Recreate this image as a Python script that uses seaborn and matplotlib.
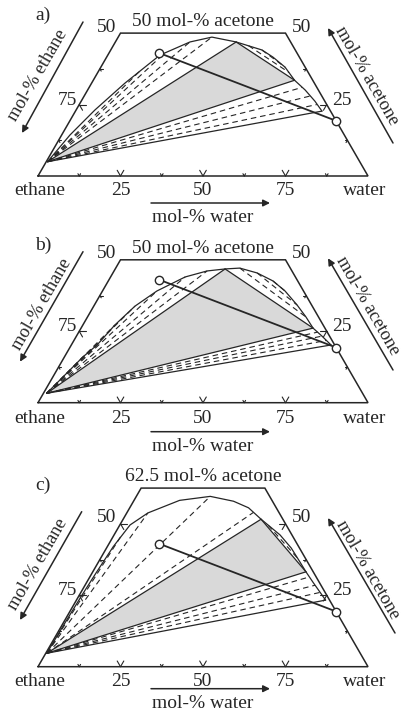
import numpy as np
import pandas as pd
import matplotlib
matplotlib.use("Agg")
import matplotlib.pyplot as plt
from matplotlib.patches import Polygon
import seaborn as sns

sns.set_theme(style="white")
plt.rcParams['font.family'] = ['Liberation Serif', 'DejaVu Serif']

# ---------------- data: compositions in mol-% (water, acetone); ethane = rest ----------------
panel_labels = ["a)", "b)", "c)"]
acetone_cut = [50.0, 50.0, 62.5]
top_titles = ["50 mol-% acetone", "50 mol-% acetone", "62.5 mol-% acetone"]
bottom_ticks = [25, 50, 75]

feed_water = [15.3, 80.7]
feed_acetone = [43.0, 19.3]

vap_water = [0.4, 1.0, 0.3]
vap_acetone = [5.0, 3.3, 4.7]

# binodal (liquid envelope)
bin_a_water = [0.4, 2.5, 5.7, 10.1, 15.8, 22.6, 28.4, 36.6, 45.8, 50.4, 55.8, 61.0, 65.9, 70.8, 74.7]
bin_a_acet = [5.0, 14.3, 23.1, 32.5, 42.3, 46.9, 48.6, 46.9, 44.1, 41.6, 38.1, 33.5, 30.1, 26.2, 22.7]
bin_b_water = [1.0, 5.6, 7.8, 9.7, 12.5, 16.5, 22.6, 28.2, 33.3, 37.6, 43.7, 49.9, 55.3, 61.4, 66.2, 70.3, 74.4, 78.7]
bin_b_acet = [3.3, 16.0, 20.2, 27.2, 33.8, 39.1, 44.0, 46.1, 46.8, 47.1, 45.4, 42.6, 39.1, 34.2, 30.0, 26.1, 23.3, 20.2]
bin_c_water = [0.3, 0.5, 0.8, 1.2, 1.8, 3.1, 6.4, 13.8, 22.4, 30.3, 36.0, 41.8, 50.3, 56.0, 61.1, 64.6, 68.5, 75.5]
bin_c_acet = [4.7, 15.0, 25.0, 33.0, 42.0, 49.6, 53.8, 58.2, 59.6, 57.9, 55.6, 51.6, 46.1, 41.5, 36.6, 33.2, 29.6, 23.3]

# three-phase triangle liquid corners and water-rich end of lower two-phase region
L1_water = [36.6, 33.3, 41.8]
L1_acet = [46.9, 46.8, 51.6]
L2_water = [61.0, 70.3, 64.6]
L2_acet = [33.5, 26.1, 33.2]
R_water = [74.7, 78.7, 75.5]
R_acet = [22.7, 20.2, 23.3]

# tie lines vapour -> L1-rich branch
tie_up_water = [[12.5, 16.9, 22.6, 28.4],
                [5.6, 7.8, 9.7, 12.5, 16.5, 22.6, 28.2],
                [2.3, 6.4, 22.4, 38.3]]
tie_up_acet = [[36.7, 43.1, 46.9, 48.6],
               [16.0, 20.2, 27.2, 33.8, 39.1, 44.0, 46.1],
               [45.5, 53.8, 59.6, 54.0]]
# tie lines vapour -> L2-rich branch
tie_lo_water = [[64.5, 68.5, 72.0], [72.4, 74.4, 76.5], [66.5, 69.7, 72.5]]
tie_lo_acet = [[31.0, 28.0, 25.0], [24.7, 23.3, 21.8], [31.4, 28.5, 26.0]]
# liquid-liquid tie lines (pairs of ends)
tie_ll_w1 = [[41.0, 45.8], [37.6, 43.7, 49.9], [45.0]]
tie_ll_a1 = [[45.6, 44.1], [47.1, 45.4, 42.6], [49.5]]
tie_ll_w2 = [[58.0, 55.8], [66.2, 61.4, 55.3], [60.0]]
tie_ll_a2 = [[36.2, 38.1], [30.0, 34.2, 39.1], [37.7]]

binodal_water = [bin_a_water, bin_b_water, bin_c_water]
binodal_acet = [bin_a_acet, bin_b_acet, bin_c_acet]

SQ = np.sqrt(3) / 2


def tern(w, a):
    w = np.asarray(w, float) / 100.0
    a = np.asarray(a, float) / 100.0
    return w + a / 2, a * SQ


INK = "#262626"
DASH = (0, (5, 3.5))

# layout (pixels): panel extents in figure, base line position inside panel
W, H = 406, 715
SCALE = 330.0
X0 = 38.0
panel_top = [0, 228, 458]
panel_bot = [228, 458, 715]
base_local = [176.0, 174.7, 208.7]
lbl_pos = [(43, 15), (43, 17), (43, 27)]
arrow_dy = [27, 29, 22]
text_dy = [41.5, 44, 36.5]
corner_dy = [14.5, 15.5, 15]
eth_arrow = [((83, 22), (22, 133)), ((83, 23.7), (20, 133.7)), ((81.7, 53.7), (20, 162))]
eth_text = [(37.5, 75.5), (41.5, 76.0), (37.5, 106.0)]
ace_arrow = [((393, 143), (328, 28)), ((393, 142), (328, 30.3)), ((395, 175), (328, 60))]
ace_text = [(367.0, 76.0), (368.0, 78.0), (368.0, 111.5)]

fig = plt.figure(figsize=(W / 100, H / 100), dpi=100)
FS = 14
FS_ROT = 13.2

for i in range(3):
    top, bot, y0 = panel_top[i], panel_bot[i], base_local[i]
    ax = fig.add_axes([0, 1 - bot / H, 1, (bot - top) / H])
    ax.set_xlim(-X0 / SCALE, (W - X0) / SCALE)
    ax.set_ylim(-(bot - top - y0) / SCALE, y0 / SCALE)
    ax.set_axis_off()

    def P(px, py):
        return ((px - X0) / SCALE, (y0 - py) / SCALE)

    cut = acetone_cut[i]
    # truncated triangle outline
    ox, oy = tern([0, 0, 100 - cut, 100, 0], [0, cut, cut, 0, 0])
    ax.plot(ox, oy, color=INK, lw=1.1, zorder=3, solid_joinstyle='miter')

    # edge ticks
    tick_segs = []
    for v in np.arange(12.5, 100, 12.5):
        L = 0.02 if v % 25 == 0 else 0.008
        bx, by = tern(v, 0)
        for dx, dy in [(0.5, SQ), (-0.5, SQ)]:
            tick_segs.append(([bx, bx + L * dx], [by, by + L * dy]))
    for a in np.arange(12.5, cut - 1e-6, 12.5):
        L = 0.02 if a % 25 == 0 else 0.008
        lx, ly = tern(0, a)
        for dx, dy in [(1, 0), (0.5, -SQ)]:
            tick_segs.append(([lx, lx + L * dx], [ly, ly + L * dy]))
        rx, ry = tern(100 - a, a)
        for dx, dy in [(-1, 0), (-0.5, -SQ)]:
            tick_segs.append(([rx, rx + L * dx], [ry, ry + L * dy]))
    for sx, sy in tick_segs:
        ax.plot(sx, sy, color=INK, lw=0.8, zorder=3)

    V = (vap_water[i], vap_acetone[i])
    L1 = (L1_water[i], L1_acet[i])
    L2 = (L2_water[i], L2_acet[i])
    R = (R_water[i], R_acet[i])

    # three-phase triangle
    tx, ty = tern([V[0], L1[0], L2[0]], [V[1], L1[1], L2[1]])
    ax.add_patch(Polygon(np.column_stack([tx, ty]), closed=True,
                         facecolor="#d9d9d9", edgecolor="none", zorder=1))

    # dashed tie lines
    rows = []
    k = 0
    for w_, a_ in zip(tie_up_water[i] + tie_lo_water[i], tie_up_acet[i] + tie_lo_acet[i]):
        xs, ys = tern([V[0], w_], [V[1], a_])
        for x, y in zip(xs, ys):
            rows.append((x, y, k))
        k += 1
    for w1, a1, w2, a2 in zip(tie_ll_w1[i], tie_ll_a1[i], tie_ll_w2[i], tie_ll_a2[i]):
        xs, ys = tern([w1, w2], [a1, a2])
        for x, y in zip(xs, ys):
            rows.append((x, y, k))
        k += 1
    ties = pd.DataFrame(rows, columns=["x", "y", "seg"])
    sns.lineplot(data=ties, x="x", y="y", units="seg", estimator=None, sort=False,
                 color=INK, lw=0.8, linestyle=DASH, ax=ax, legend=False, zorder=2)

    # solid boundaries of three-phase triangle and two-phase regions
    rows = []
    for k, (p, q) in enumerate([(V, L1), (L1, L2), (V, L2), (V, R)]):
        xs, ys = tern([p[0], q[0]], [p[1], q[1]])
        for x, y in zip(xs, ys):
            rows.append((x, y, k))
    bnd = pd.DataFrame(rows, columns=["x", "y", "seg"])
    sns.lineplot(data=bnd, x="x", y="y", units="seg", estimator=None, sort=False,
                 color=INK, lw=0.9, ax=ax, legend=False, zorder=3)

    # binodal curve
    bx, by = tern(binodal_water[i], binodal_acet[i])
    sns.lineplot(x=bx, y=by, sort=False, estimator=None, color=INK, lw=0.9, ax=ax, zorder=3)

    # feed line with circles
    fx, fy = tern(feed_water, feed_acetone)
    sns.lineplot(x=fx, y=fy, sort=False, estimator=None, color=INK, lw=1.3, ax=ax, zorder=4)
    sns.scatterplot(x=fx, y=fy, s=36, facecolor="white", edgecolor=INK, linewidth=1.0,
                    ax=ax, zorder=5, legend=False)
    ax.set_xlabel("")
    ax.set_ylabel("")

    # ---------------- texts ----------------
    ax.text(*P(*lbl_pos[i]), panel_labels[i], fontsize=FS, ha="center", va="center", color=INK)
    _, tcy = tern(0, cut)
    ax.text(0.5, tcy + 11.5 / SCALE, top_titles[i], fontsize=FS, ha="center", va="center", color=INK)
    lx, ly = tern(0, 50)
    rx, ry = tern(50, 50)
    ax.text(lx - 13.5 / SCALE, ly + 6 / SCALE, "50", fontsize=FS, ha="center", va="center", color=INK)
    ax.text(rx + 16.5 / SCALE, ry + 6 / SCALE, "50", fontsize=FS, ha="center", va="center", color=INK)
    lx, ly = tern(0, 25)
    rx, ry = tern(75, 25)
    ax.text(lx - 12 / SCALE, ly + 4.5 / SCALE, "75", fontsize=FS, ha="center", va="center", color=INK)
    ax.text(rx + 15 / SCALE, ry + 4.5 / SCALE, "25", fontsize=FS, ha="center", va="center", color=INK)
    # bottom labels
    cy = -corner_dy[i] / SCALE
    ax.text((40 - X0) / SCALE, cy, "ethane", fontsize=FS, ha="center", va="center", color=INK)
    ax.text((365 - X0) / SCALE, cy, "water", fontsize=FS, ha="center", va="center", color=INK)
    for t in bottom_ticks:
        ax.text(t / 100, cy, str(t), fontsize=FS, ha="center", va="center", color=INK)
    ay = -arrow_dy[i] / SCALE
    ax.annotate("", xy=((270 - X0) / SCALE, ay), xytext=((151 - X0) / SCALE, ay),
                arrowprops=dict(arrowstyle="-|>", lw=1.1, color=INK, mutation_scale=10,
                                shrinkA=0, shrinkB=0))
    ax.text(0.5, -text_dy[i] / SCALE, "mol-% water", fontsize=FS, ha="center", va="center", color=INK)
    # slanted arrows and titles
    (t0, h0) = eth_arrow[i]
    ax.annotate("", xy=P(*h0), xytext=P(*t0),
                arrowprops=dict(arrowstyle="-|>", lw=1.1, color=INK, mutation_scale=10,
                                shrinkA=0, shrinkB=0))
    ax.text(*P(*eth_text[i]), "mol-% ethane", fontsize=FS_ROT, rotation=60, rotation_mode="anchor",
            ha="center", va="center", color=INK)
    (t0, h0) = ace_arrow[i]
    ax.annotate("", xy=P(*h0), xytext=P(*t0),
                arrowprops=dict(arrowstyle="-|>", lw=1.1, color=INK, mutation_scale=10,
                                shrinkA=0, shrinkB=0))
    ax.text(*P(*ace_text[i]), "mol-% acetone", fontsize=FS_ROT, rotation=-60, rotation_mode="anchor",
            ha="center", va="center", color=INK)

fig.savefig("out.png", dpi=100)
